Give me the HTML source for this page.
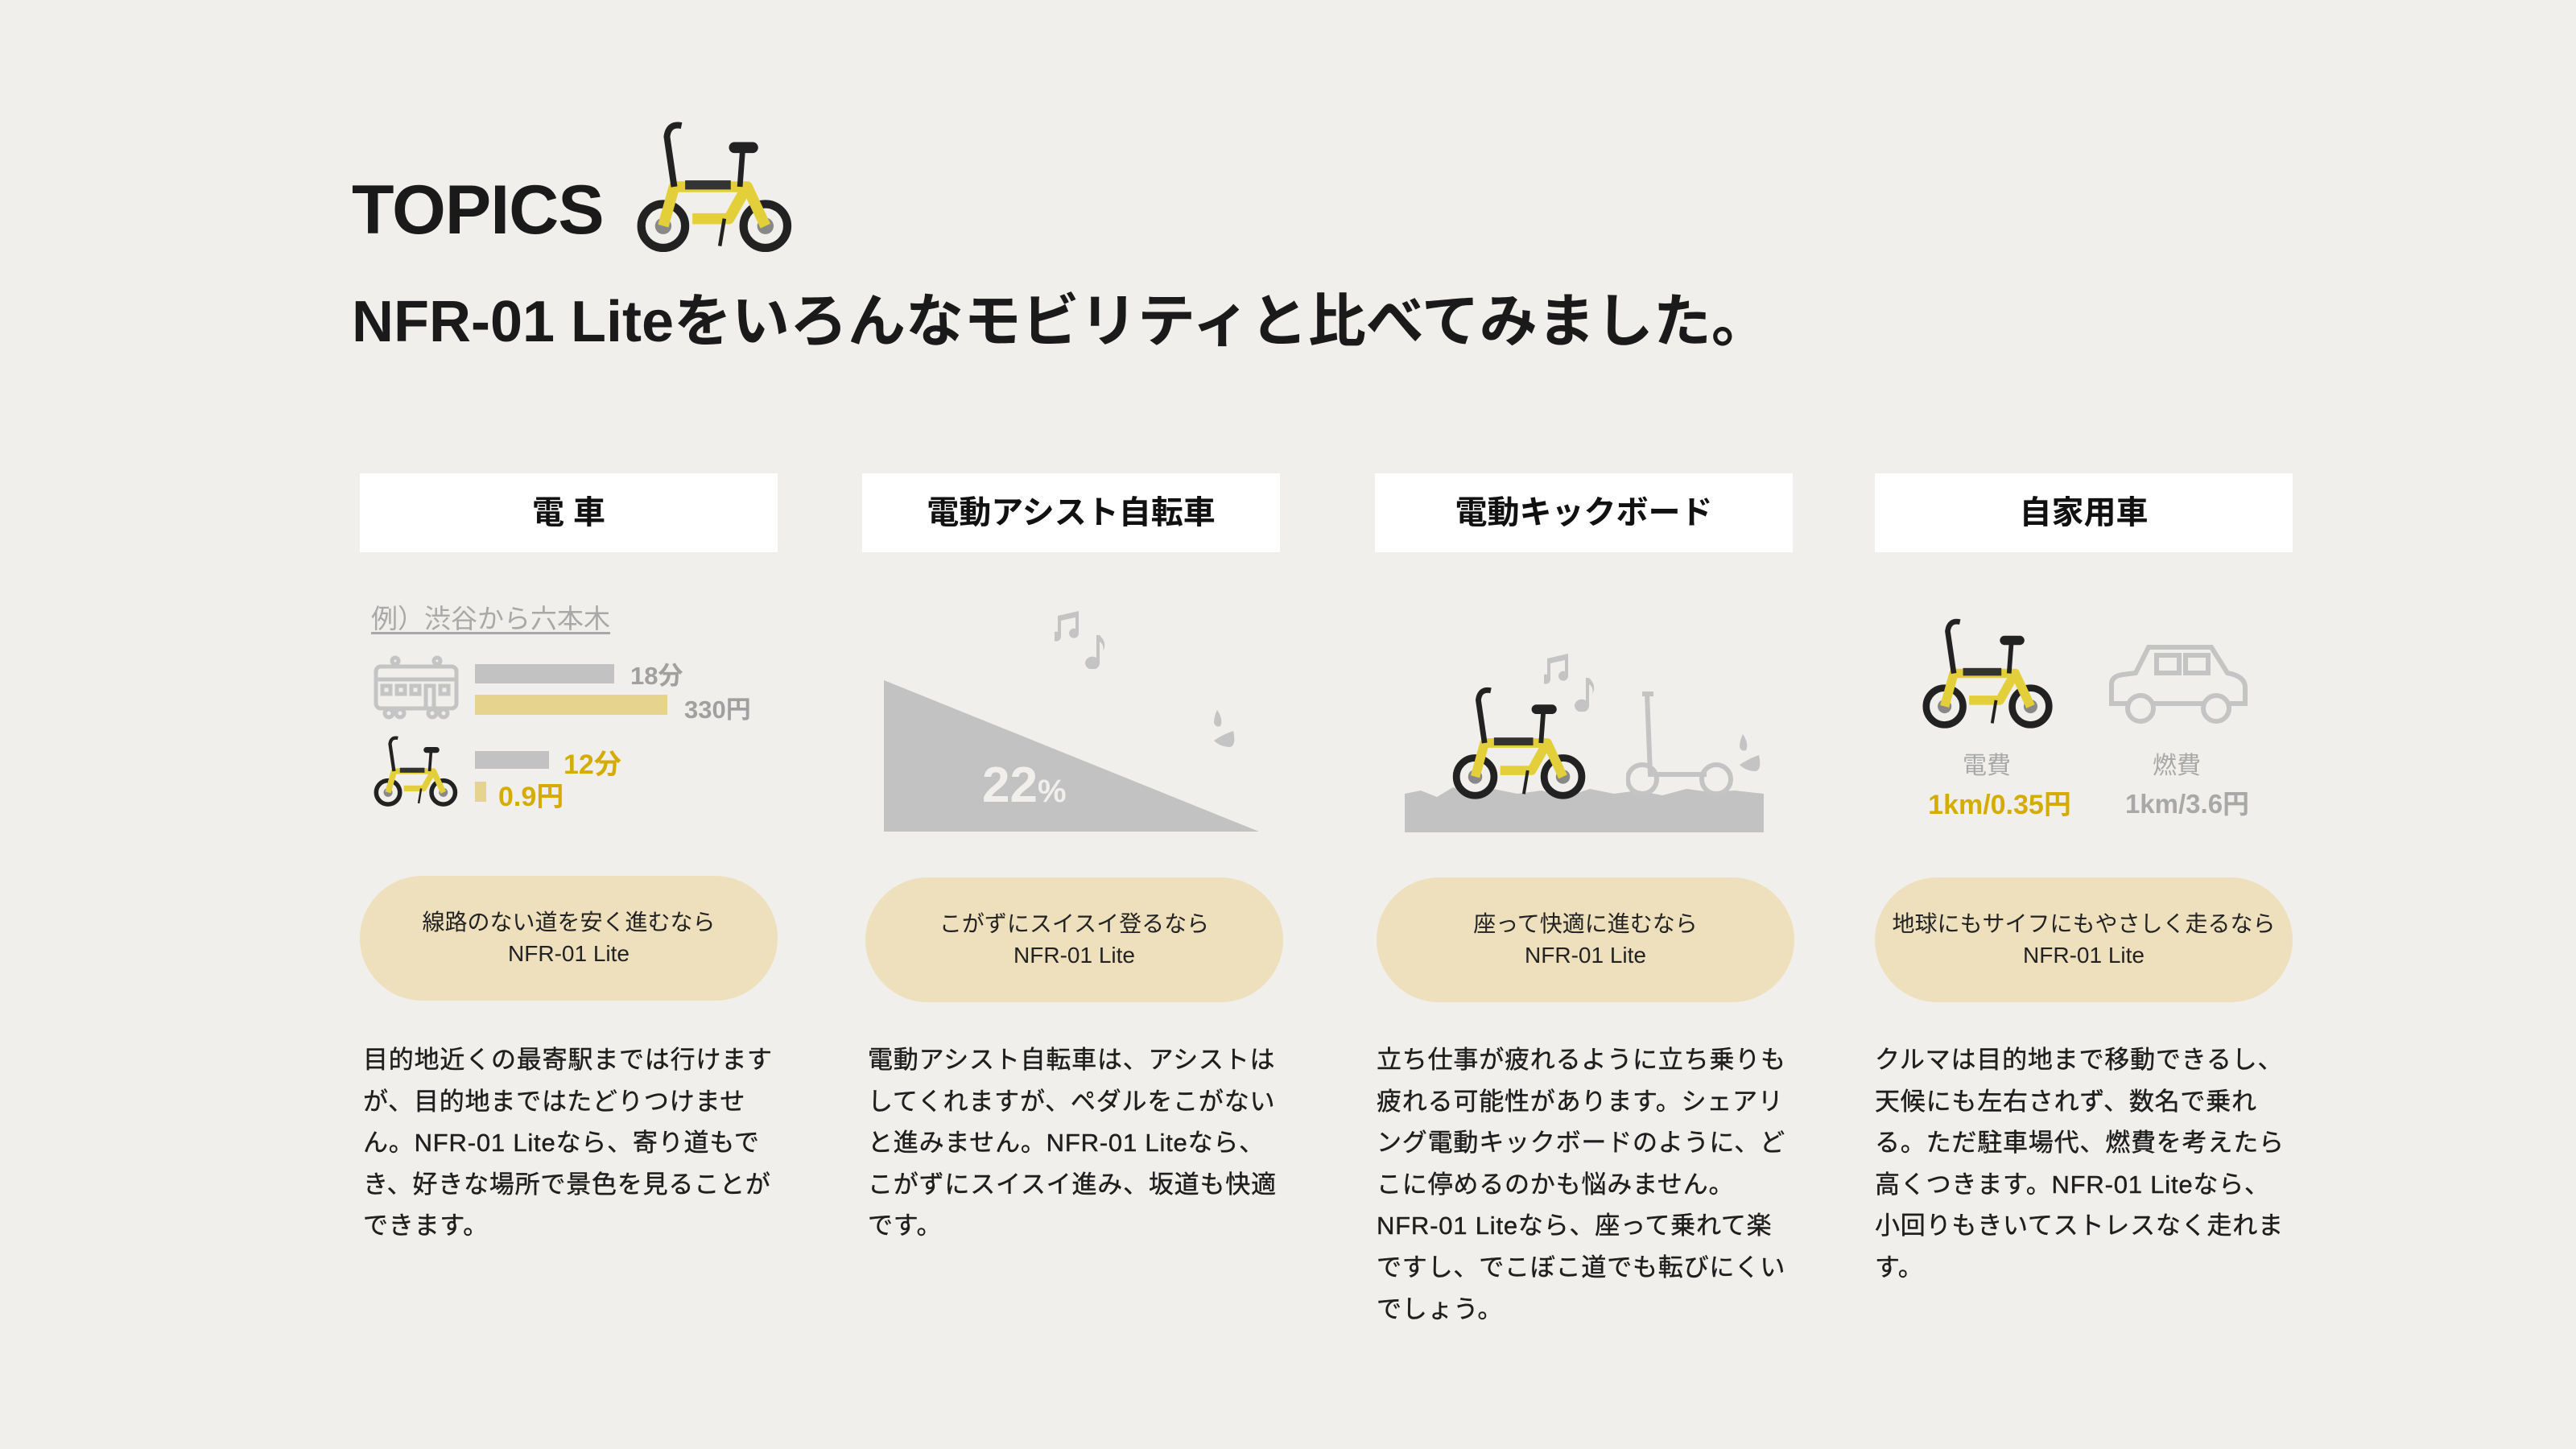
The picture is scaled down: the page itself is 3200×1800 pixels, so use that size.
<!DOCTYPE html>
<html><head><meta charset="utf-8"><style>
*{margin:0;padding:0;box-sizing:border-box}
body{width:3200px;height:1800px;background:#f1efeb;position:relative;overflow:hidden;font-family:"Liberation Sans","Noto Sans CJK JP",sans-serif;color:#1e1e1e}
.a{position:absolute}
.hd{position:absolute;top:588px;height:98px;width:519px;background:#fff;font-weight:bold;font-size:40px;text-align:center;line-height:98px;color:#111}
.pill{position:absolute;top:1088px;height:155px;width:519px;background:#eee0bd;border-radius:78px;text-align:center;font-size:28px;line-height:39px;padding-top:38px;color:#222}
.body{position:absolute;top:1291px;font-size:31px;line-height:51.6px;letter-spacing:0.8px;color:#1e1e1e;white-space:nowrap;-webkit-text-stroke:0.4px #1e1e1e}
</style></head><body>
<svg width="0" height="0" style="position:absolute"><defs>
<g id="bike">
<circle cx="28" cy="118" r="24" fill="none" stroke="#222" stroke-width="9"/>
<circle cx="28" cy="118" r="9" fill="#888"/>
<circle cx="140" cy="118" r="24" fill="none" stroke="#222" stroke-width="9"/>
<circle cx="140" cy="118" r="9" fill="#888"/>
<path d="M28 118 L40 75 L120 75 L140 118 M60 110 L100 110 L118 78" stroke="#e3cf3a" stroke-width="12" fill="none" stroke-linejoin="round"/>
<path d="M40 75 L32 20 Q34 5 48 8" stroke="#222" stroke-width="7" fill="none"/>
<path d="M112 75 L115 35" stroke="#222" stroke-width="6"/>
<rect x="100" y="26" width="32" height="12" rx="6" fill="#222"/>
<rect x="52" y="68" width="50" height="10" fill="#333"/>
<path d="M95 110 L90 140" stroke="#222" stroke-width="4"/>
</g>
<g id="notes" fill="#c4c4c4">
<path d="M4 6 L30 0 L30 28 A6 6 0 1 1 26 22 L26 8 L8 12 L8 32 A6 6 0 1 1 4 26 Z"/>
<path d="M52 30 L56 30 Q66 40 60 50 Q62 42 56 38 L56 64 A9 8 0 1 1 52 58 Z"/>
</g>
<g id="drops" fill="#c4c4c4">
<path d="M10 0 Q18 12 14 20 Q8 22 6 16 Q6 8 10 0Z"/>
<path d="M30 26 Q34 44 26 46 Q14 46 6 38 Q18 30 30 26Z"/>
</g>
</defs></svg>

<div class="a" style="left:437px;top:212px;font-size:86px;font-weight:bold;color:#1a1a1a;letter-spacing:-1px">TOPICS</div>
<svg class="a" style="left:786px;top:147px" width="205" height="170" viewBox="0 0 170 150"><use href="#bike"/></svg>
<div class="a" style="left:437px;top:340px;font-size:72px;font-weight:bold;color:#1a1a1a;white-space:nowrap">NFR-01 Liteをいろんなモビリティと比べてみました。</div>

<div class="hd" style="left:447px">電 車</div>
<div class="hd" style="left:1071px">電動アシスト自転車</div>
<div class="hd" style="left:1708px">電動キックボード</div>
<div class="hd" style="left:2329px">自家用車</div>

<div class="a" style="left:461px;top:742px;font-size:33px;color:#a8a8a8;text-decoration:underline;text-underline-offset:5px">例）渋谷から六本木</div>
<svg class="a" style="left:463px;top:814px" width="110" height="80" viewBox="0 0 110 80" fill="none" stroke="#c4c4c4" stroke-width="5">
<rect x="4" y="14" width="100" height="52" rx="6"/><line x1="4" y1="30" x2="104" y2="30"/>
<rect x="12" y="38" width="10" height="10"/><rect x="30" y="38" width="10" height="10"/><rect x="48" y="38" width="10" height="10"/><rect x="66" y="38" width="10" height="28"/><rect x="84" y="38" width="10" height="10"/>
<circle cx="20" cy="72" r="5"/><circle cx="34" cy="72" r="5"/><circle cx="74" cy="72" r="5"/><circle cx="88" cy="72" r="5"/>
<circle cx="28" cy="7" r="4"/><circle cx="80" cy="7" r="4"/></svg>
<div class="a" style="left:590px;top:825px;width:173px;height:24px;background:#c2c2c2"></div>
<div class="a" style="left:590px;top:863px;width:239px;height:25px;background:#e6d48e"></div>
<div class="a" style="left:783px;top:814px;font-size:31px;color:#a0a0a0;font-weight:bold">18分</div>
<div class="a" style="left:850px;top:856px;font-size:31px;color:#a0a0a0;font-weight:bold">330円</div>
<svg class="a" style="left:463px;top:912px" width="108" height="92" viewBox="0 0 170 150"><use href="#bike"/></svg>
<div class="a" style="left:590px;top:933px;width:92px;height:22px;background:#c2c2c2"></div>
<div class="a" style="left:590px;top:971px;width:14px;height:25px;background:#e6d48e"></div>
<div class="a" style="left:700px;top:922px;font-size:34px;color:#d4ad00;font-weight:bold">12分</div>
<div class="a" style="left:619px;top:962px;font-size:34px;color:#d4ad00;font-weight:bold">0.9円</div>

<svg class="a" style="left:1098px;top:845px" width="466" height="190"><polygon points="0,0 0,188 466,188" fill="#c2c2c2"/></svg>
<div class="a" style="left:1220px;top:940px;font-size:62px;font-weight:bold;color:#f1efeb">22<span style="font-size:40px">%</span></div>
<svg class="a" style="left:1310px;top:759px" width="72" height="72"><use href="#notes"/></svg>
<svg class="a" style="left:1502px;top:882px" width="40" height="50"><use href="#drops"/></svg>

<svg class="a" style="left:1745px;top:960px" width="446" height="74"><path d="M0 26 L20 22 L40 30 L60 18 L85 28 L110 20 L140 26 L170 22 L200 30 L230 20 L260 26 L290 22 L320 28 L350 20 L380 24 L410 22 L446 26 L446 74 L0 74Z" fill="#c2c2c2"/></svg>
<svg class="a" style="left:1800px;top:850px" width="176" height="146" viewBox="0 0 170 150"><use href="#bike"/></svg>
<svg class="a" style="left:1918px;top:812px" width="72" height="72"><use href="#notes"/></svg>
<svg class="a" style="left:2020px;top:858px" width="140" height="136" fill="none" stroke="#c4c4c4" stroke-width="6">
<path d="M20 4 L34 4 M26 4 L30 104 L100 104"/><circle cx="20" cy="110" r="18"/><circle cx="112" cy="110" r="18"/></svg>
<svg class="a" style="left:2155px;top:912px" width="40" height="50"><use href="#drops"/></svg>

<svg class="a" style="left:2384px;top:765px" width="172" height="143" viewBox="0 0 170 150"><use href="#bike"/></svg>
<svg class="a" style="left:2617px;top:798px" width="178" height="110" viewBox="0 0 178 110" fill="none" stroke="#c4c4c4" stroke-width="6">
<path d="M6 76 L6 52 Q6 42 20 40 L36 38 L52 6 L130 6 L150 38 Q172 42 172 56 L172 76 Z"/>
<rect x="62" y="16" width="28" height="22"/><rect x="98" y="16" width="28" height="22"/>
<circle cx="42" cy="82" r="16" fill="#f1efeb"/><circle cx="136" cy="82" r="16" fill="#f1efeb"/></svg>
<div class="a" style="left:2408px;top:926px;width:120px;text-align:center;font-size:30px;color:#a8a8a8">電費</div>
<div class="a" style="left:2644px;top:926px;width:120px;text-align:center;font-size:30px;color:#a8a8a8">燃費</div>
<div class="a" style="left:2364px;top:972px;width:240px;text-align:center;font-size:34px;font-weight:bold;color:#d4ad00">1km/0.35円</div>
<div class="a" style="left:2597px;top:972px;width:240px;text-align:center;font-size:33px;font-weight:bold;color:#a8a8a8">1km/3.6円</div>

<div class="pill" style="left:447px">線路のない道を安く進むなら<br>NFR-01 Lite</div>
<div class="pill" style="left:1075px;top:1090px">こがずにスイスイ登るなら<br>NFR-01 Lite</div>
<div class="pill" style="left:1710px;top:1090px">座って快適に進むなら<br>NFR-01 Lite</div>
<div class="pill" style="left:2329px;top:1090px">地球にもサイフにもやさしく走るなら<br>NFR-01 Lite</div>

<div class="body" style="left:451px">目的地近くの最寄駅までは行けます<br>が、目的地まではたどりつけませ<br>ん。NFR-01 Liteなら、寄り道もで<br>き、好きな場所で景色を見ることが<br>できます。</div>
<div class="body" style="left:1078px">電動アシスト自転車は、アシストは<br>してくれますが、ペダルをこがない<br>と進みません。NFR-01 Liteなら、<br>こがずにスイスイ進み、坂道も快適<br>です。</div>
<div class="body" style="left:1710px">立ち仕事が疲れるように立ち乗りも<br>疲れる可能性があります。シェアリ<br>ング電動キックボードのように、ど<br>こに停めるのかも悩みません。<br>NFR-01 Liteなら、座って乗れて楽<br>ですし、でこぼこ道でも転びにくい<br>でしょう。</div>
<div class="body" style="left:2329px">クルマは目的地まで移動できるし、<br>天候にも左右されず、数名で乗れ<br>る。ただ駐車場代、燃費を考えたら<br>高くつきます。NFR-01 Liteなら、<br>小回りもきいてストレスなく走れま<br>す。</div>
</body></html>
